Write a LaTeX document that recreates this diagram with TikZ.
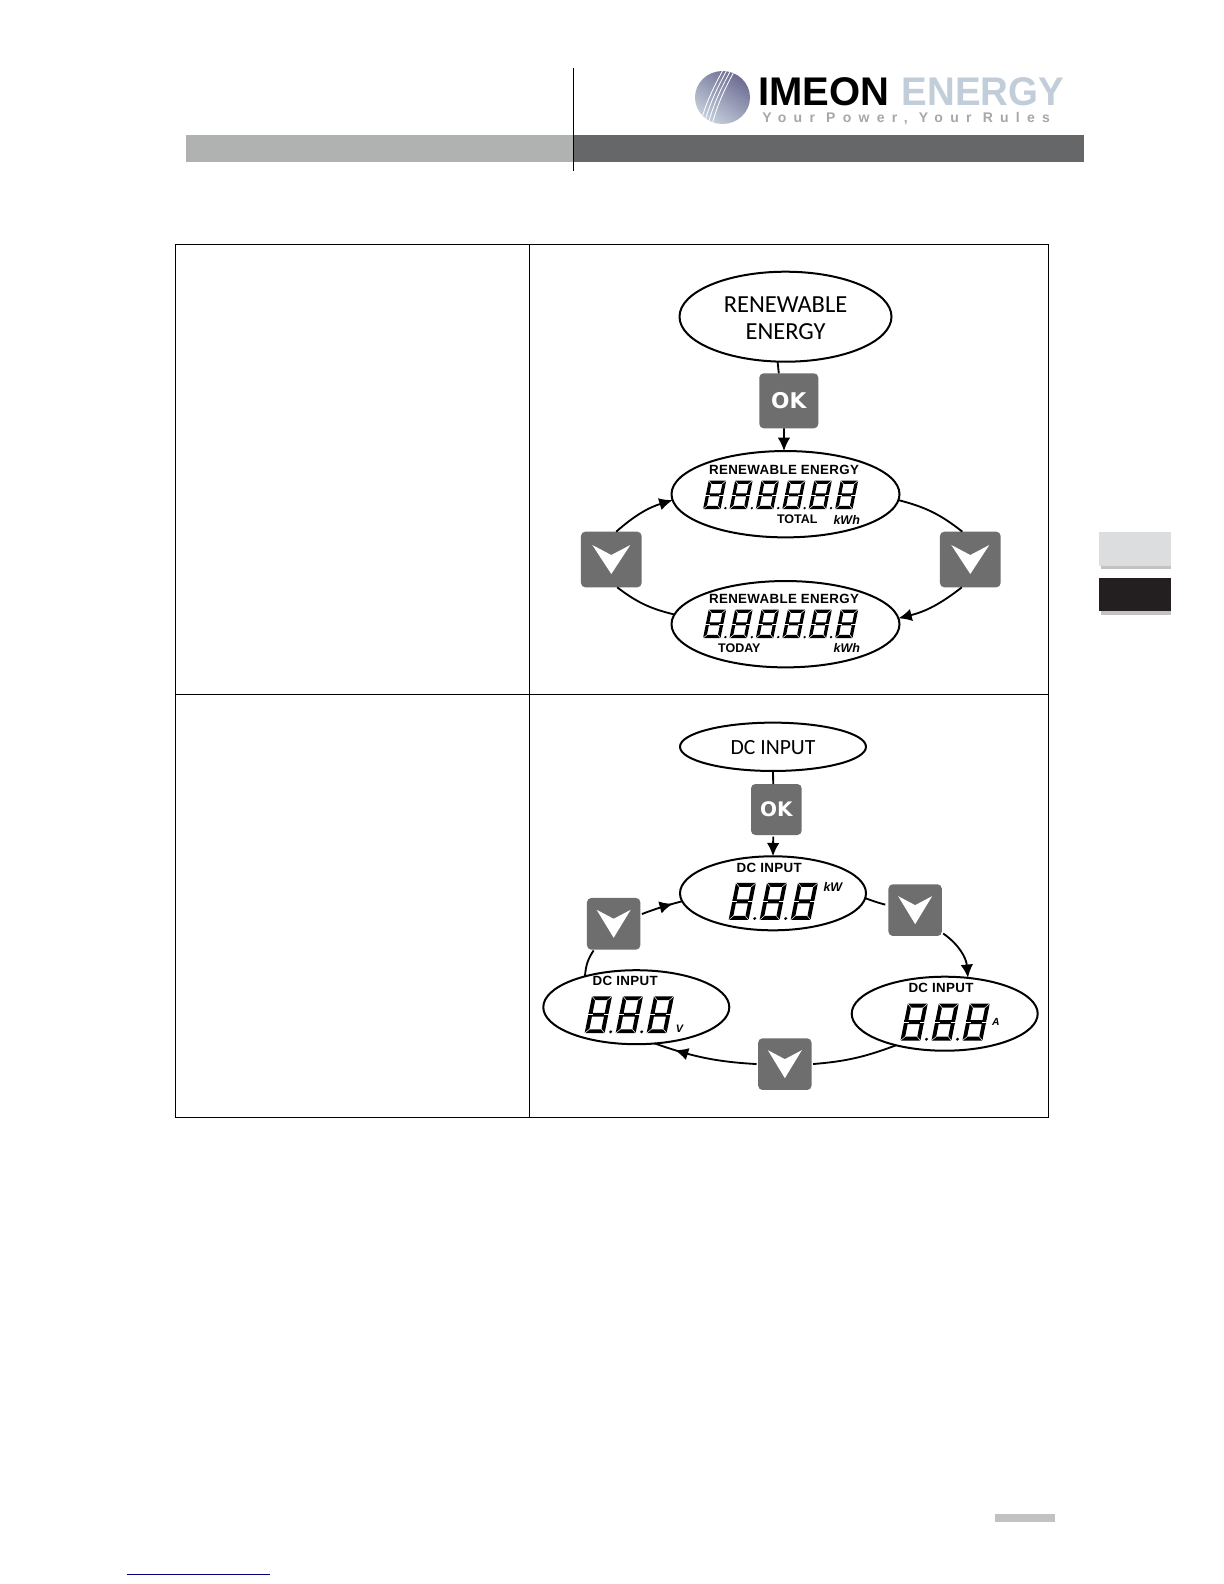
\documentclass[tikz,border=0pt]{standalone}
\usepackage{fontspec}
\setmainfont{Liberation Sans}
\newfontfamily\carl{Carlito}
\newfontfamily\djv{DejaVu Sans}
\newfontfamily\lcdwide[LetterSpace=2.5]{Liberation Sans}
\newfontfamily\tagf[LetterSpace=52]{Liberation Sans}
\usetikzlibrary{arrows.meta,shapes.geometric,decorations.markings,calc}
\definecolor{btn}{HTML}{6E6E6E}
\definecolor{barL}{HTML}{B0B2B2}
\definecolor{barR}{HTML}{656768}
\definecolor{tabL}{HTML}{DCDDDF}
\definecolor{tabS}{HTML}{C2C2C2}
\definecolor{tabD}{HTML}{231F20}
\definecolor{energy}{HTML}{C2CDDA}
\definecolor{tagc}{HTML}{A6A8A8}
\tikzset{
  oval/.style={ellipse,draw=black,line width=1.2pt,fill=white,inner sep=0pt,outer sep=0pt},
  bigoval/.style={oval,minimum width=127.2pt,minimum height=54pt},
  dispA/.style={oval,minimum width=136.8pt,minimum height=51.8pt},
  dispB/.style={oval,minimum width=111.6pt,minimum height=44.4pt},
  dcoval/.style={oval,minimum width=111.6pt,minimum height=29pt},
  key/.style={rectangle,rounded corners=2.6pt,fill=btn,inner sep=0pt,outer sep=0pt,text=white},
  okA/.style={key,minimum width=35.4pt,minimum height=33pt,font=\djv\bfseries\fontsize{13}{14}\selectfont},
  okB/.style={key,minimum width=30.4pt,minimum height=30.6pt,font=\djv\bfseries\fontsize{12}{14}\selectfont},
  dnA/.style={key,minimum width=36.4pt,minimum height=33.4pt},
  dnB/.style={key,minimum width=32pt,minimum height=31pt},
  head/.style={inner sep=0pt,font=\carl\fontsize{14.7}{16}\selectfont},
  headB/.style={inner sep=0pt,font=\carl\fontsize{13}{15}\selectfont},
  lcdh/.style={inner sep=0pt,font=\lcdwide\bfseries\fontsize{8}{9}\selectfont},
  lcdu/.style={inner sep=0pt,font=\bfseries\fontsize{7.5}{9}\selectfont},
  lcdi/.style={inner sep=0pt,font=\bfseries\itshape\fontsize{7.5}{9}\selectfont},
  link/.style={line width=1.1pt,black},
  arrowlink/.style={link,-{Latex[length=8pt,width=7.5pt]}},
  midarrow/.style={link,postaction=decorate,decoration={markings,mark=at position #1 with {\arrow{Latex[length=8pt,width=7.5pt]}}}},
  rule/.style={line width=.6pt,black},
  lcdtick/.style={white,line width=.3pt}
}
% seven-segment LCD read-out: count, left x, bottom y, pitch, width, height, stroke
\newcommand{\lcdnum}[7]{%
  \foreach \i in {1,...,#1}{%
    \begin{scope}[shift={({#2+(\i-1)*#4},#3)},xslant=.2]
      \draw[line width=#7 pt,black,line cap=rect,line join=miter]
        (0,-#6) rectangle (#5,0) (0,{-#6/2}) -- (#5,{-#6/2});
      \draw[lcdtick] (-2.5,{-#6-2.5}) -- (2.5,{-#6+2.5});
      \draw[lcdtick] ({#5+2.5},{-#6-2.5}) -- ({#5-2.5},{-#6+2.5});
      \draw[lcdtick] (-2.5,2.5) -- (2.5,-2.5);
      \draw[lcdtick] ({#5+2.5},2.5) -- ({#5-2.5},-2.5);
      \draw[lcdtick] (-2.5,{-#6/2}) -- (2.5,{-#6/2});
      \draw[lcdtick] ({#5-2.5},{-#6/2}) -- ({#5+2.5},{-#6/2});
      \ifnum\i<#1\relax
        \fill[black] ({#5+(#4-#5)*.52},.6) circle ({#7*.42pt});
      \fi
    \end{scope}}}
% white chevron on a key
\newcommand{\chev}[4]{% node, half width, top/tip, notch
  \fill[white] ($(#1)+(-#2,-#3)$) -- ($(#1)+(0,-#4)$) -- ($(#1)+(#2,-#3)$) -- ($(#1)+(0,#3)$) -- cycle;}
\begin{document}
\begin{tikzpicture}[x=.6pt,y=-.6pt]
\useasboundingbox (0,0) rectangle (1224,1584);
\fill[white] (0,0) rectangle (1224,1584);
% header
\fill[barL] (186,135) rectangle (573.6,161.8);
\fill[barR] (573.6,135) rectangle (1083.6,161.8);
\draw[line width=.7pt,black] (573.6,67.5) -- (573.6,170.7);
% logo
\shade[left color=gray!85!blue,right color=energy!95!white,shading angle=-35] (722.5,97.5) ellipse (27.5 and 26.5);
\begin{scope}
\clip (722.5,97.5) ellipse (27.5 and 26.5);
\foreach \d in {0,4,8,12}{\draw[white,line width=.5pt] ({723+\d},70) .. controls ({713+\d},88) and ({705+\d},105) .. ({700+\d},125);}
\end{scope}
\node[inner sep=0pt,anchor=base west,font=\bfseries\fontsize{24}{25}\selectfont,text=black] (imeon) at (758,105) {IMEON};
\node[inner sep=0pt,anchor=base west,font=\bfseries\fontsize{24}{25}\selectfont,text=energy] (energy) at (901.5,105) {\scalebox{.96}[1]{ENERGY}};
\node[inner sep=0pt,anchor=base west,font=\tagf\bfseries\fontsize{8.4}{9}\selectfont,text=tagc] (tagline) at (762,122) {Your Power, Your Rules};
% side tabs and page marks
\fill[tabS] (1101,536) rectangle (1171,569);
\fill[tabL] (1099,532.3) rectangle (1170.7,565.7);
\fill[tabS] (1101,582) rectangle (1171,614.7);
\fill[tabD] (1099,578.3) rectangle (1170.7,610.5);
\fill[tabS] (995,1514) rectangle (1055,1521.5);
\draw[line width=.9pt,blue!50!black] (127,1574.6) -- (270,1574.6);
% table
\draw[rule] (175.7,244.7) rectangle (1048.5,1117);
\draw[rule] (175.7,694) -- (1048.5,694);
\draw[rule] (529.5,244.7) -- (529.5,1117);

% ---------- first diagram
\node[bigoval] (re) at (785.5,316.7) {};
\node[head] (reA) at (785.5,304.3) {RENEWABLE};
\node[head] (reB) at (785.5,331.7) {ENERGY};
\node[okA] (ok1) at (788.8,400.8) {OK};
\node[dispA] (tot) at (785.5,494.2) {};
\node[dispA] (tod) at (785.5,624.2) {};
\node[dnA] (kl) at (611.3,559.5) {};
\node[dnA] (kr) at (970.3,559.5) {};
\chev{kl}{19}{14.5}{4.5}
\chev{kr}{19}{14.5}{4.5}
\node[lcdh] (l1) at (784,469.5) {RENEWABLE ENERGY};
\node[lcdu] (l2) at (797.3,519.2) {TOTAL};
\node[lcdi] (l3) at (846.7,519.5) {kWh};
\node[lcdh] (l4) at (784,599) {RENEWABLE ENERGY};
\node[lcdu] (l5) at (739.3,648.3) {TODAY};
\node[lcdi] (l6) at (846.8,648.3) {kWh};
\lcdnum{6}{705}{507.5}{26.4}{14.2}{25.3}{1.9}
\lcdnum{6}{705}{636.5}{26.4}{14.2}{25.3}{1.9}
\draw[link] (re.260.8) -- (ok1.110.9);
\draw[arrowlink] (ok1.260) -- (tot.92);
\draw[arrowlink] (kl.80.7) to[bend left=12] (tot.183.8);
\draw[link] (tod.175.3) to[bend left=12] (kl.-78);
\draw[link] (tot.-3.3) to[bend left=12] (kr.106.6);
\draw[arrowlink] (kr.253.4) to[bend left=12] (tod.3);

% ---------- second diagram
\node[dcoval] (dc) at (773,746.8) {};
\node[headB] (dct) at (773,747.2) {DC INPUT};
\node[okB] (ok2) at (776.35,809.5) {OK};
\node[dispB] (dkw) at (773,893.3) {};
\node[dispB] (dv) at (636.3,1007.2) {};
\node[dispB] (da) at (944.7,1013.7) {};
\node[dnB] (kb1) at (915.15,910.15) {};
\node[dnB] (kb2) at (784.85,1064.15) {};
\node[dnB] (kb3) at (613.65,923.8) {};
\chev{kb1}{17}{14}{5}
\chev{kb2}{17}{14}{5}
\chev{kb3}{17}{14}{5}
\node[lcdh] (d1) at (769.2,868) {DC INPUT};
\node[lcdi] (d2) at (832.9,887) {kW};
\node[lcdh] (d3) at (625.2,981) {DC INPUT};
\node[lcdi,font=\bfseries\itshape\fontsize{6.5}{8}\selectfont] (d4) at (679.5,1029) {V};
\node[lcdh] (d5) at (941,988) {DC INPUT};
\node[lcdi,font=\bfseries\itshape\fontsize{6.2}{8}\selectfont] (d6) at (995.8,1022) {A};
\lcdnum{3}{731}{917.9}{31}{16}{33}{2.3}
\lcdnum{3}{587}{1031.2}{31}{16}{33}{2.3}
\lcdnum{3}{902.8}{1038.6}{31}{16}{33}{2.3}
\draw[link] (dc.south) -- (ok2.97.5);
\draw[arrowlink,shorten <=1pt] (ok2.263) -- (dkw.north);
\draw[link,shorten >=2pt] (dkw.-3.7) to[bend right=3] (kb1.170);
\draw[arrowlink,shorten <=1pt] (kb1.-40) to[bend left=25] (da.57.5);
\draw[link,shorten >=1pt] (da.213) to[bend left=8] (kb2.east);
\draw[midarrow=.8,shorten <=1pt] (kb2.west) to[bend right=-8] (dv.-63);
\draw[link,shorten >=.6pt] (dv.149) to[bend left=15] (kb3.233);
\draw[midarrow=.78,shorten <=1pt] (kb3.19.6) to[bend left=3] (dkw.185.2);
\end{tikzpicture}
\end{document}
